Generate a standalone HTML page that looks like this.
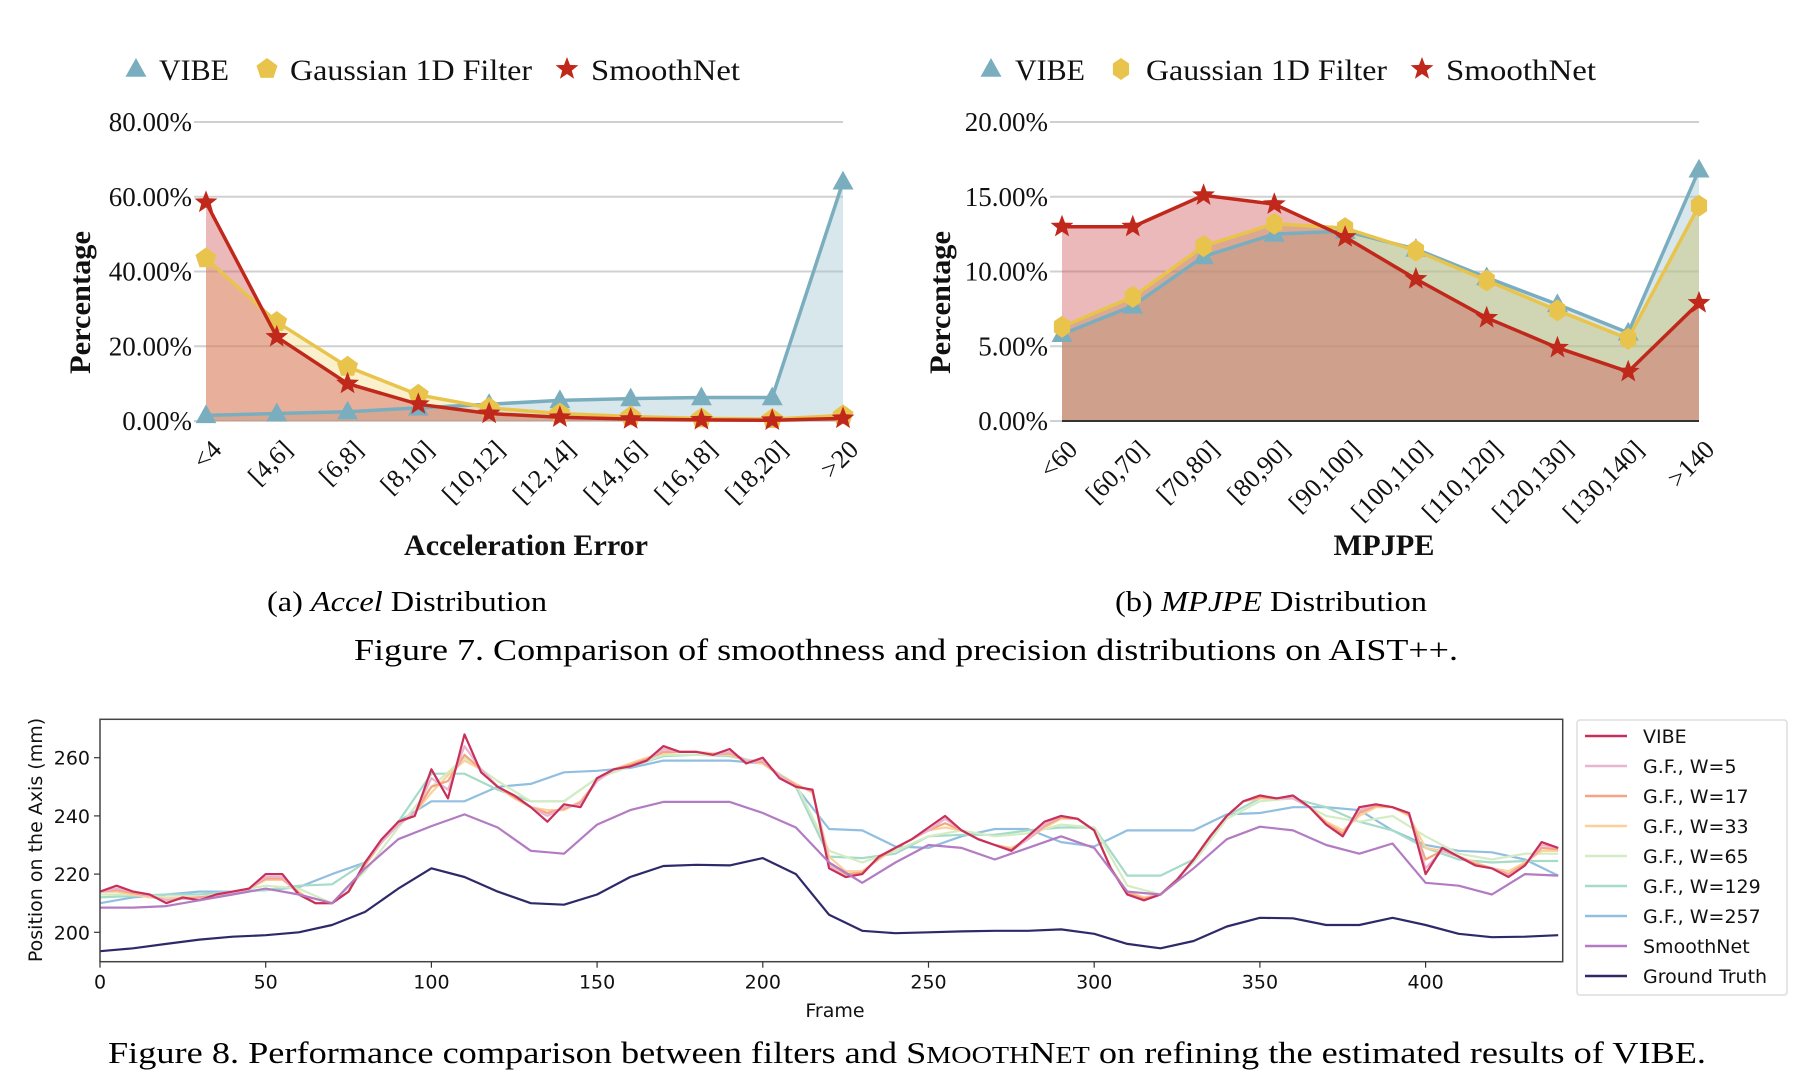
<!DOCTYPE html>
<html><head><meta charset="utf-8">
<style>
html,body{margin:0;padding:0;background:#fff;}
svg{display:block;}
.serif{font-family:"Liberation Serif",serif;}
.sans{font-family:"DejaVu Sans","Liberation Sans",sans-serif;}
</style></head>
<body>
<svg id="fig" width="1816" height="1082" viewBox="0 0 1816 1082" xmlns="http://www.w3.org/2000/svg">
<g id="chartA"></g>
<g id="chartB"></g>
<text class="serif" x="267" y="611" font-size="28" textLength="280" lengthAdjust="spacingAndGlyphs">(a) <tspan font-style="italic">Accel</tspan> Distribution</text>
<text class="serif" x="1115" y="611" font-size="28" textLength="312" lengthAdjust="spacingAndGlyphs">(b) <tspan font-style="italic">MPJPE</tspan> Distribution</text>
<text class="serif" x="354" y="660" font-size="31" textLength="1104" lengthAdjust="spacingAndGlyphs">Figure 7. Comparison of smoothness and precision distributions on AIST++.</text>
<g id="chartC"></g>
<text class="serif" x="108" y="1063" font-size="31" textLength="1598" lengthAdjust="spacingAndGlyphs">Figure 8. Performance comparison between filters and S<tspan font-size="24">MOOTH</tspan>N<tspan font-size="24">ET</tspan> on refining the estimated results of VIBE.</text>
</svg>
<script>
const NS="http://www.w3.org/2000/svg";
// ---------- Chart A data ----------
const catsA=["<4","[4,6]","[6,8]","[8,10]","[10,12]","[12,14]","[14,16]","[16,18]","[18,20]",">20"];
const vibeA=[1.5,2,2.5,3.5,4.5,5.5,6,6.3,6.3,64];
const gaussA=[43.5,26.5,14.5,7,3.5,2,1.2,0.7,0.5,1.5];
const smoothA=[58.5,22.5,10,4.5,2,1,0.5,0.3,0.2,0.7];
const ticksA=[0,20,40,60,80];
// ---------- Chart B data ----------
const catsB=["<60","[60,70]","[70,80]","[80,90]","[90,100]","[100,110]","[110,120]","[120,130]","[130,140]",">140"];
const vibeB=[5.8,7.7,11,12.5,12.7,11.5,9.6,7.8,5.9,16.8];
const gaussB=[6.3,8.3,11.7,13.2,12.9,11.4,9.4,7.4,5.5,14.4];
const smoothB=[13,13,15.1,14.5,12.3,9.5,6.9,4.9,3.3,7.9];
const ticksB=[0,5,10,15,20];
// ---------- Chart C data ----------
const frames5=[0,5,10,15,20,25,30,35,40,45,50,55,60,65,70,75,80,85,90,95,100,105,110,115,120,125,130,135,140,145,150,155,160,165,170,175,180,185,190,195,200,205,210,215,220,225,230,235,240,245,250,255,260,265,270,275,280,285,290,295,300,305,310,315,320,325,330,335,340,345,350,355,360,365,370,375,380,385,390,395,400,405,410,415,420,425,430,435,440];
const frames10=[0,10,20,30,40,50,60,70,80,90,100,110,120,130,140,150,160,170,180,190,200,210,220,230,240,250,260,270,280,290,300,310,320,330,340,350,360,370,380,390,400,410,420,430,440];
const vibeC=[214,216,214,213,210,212,211,213,214,215,220,220,213,210,210,214,224,232,238,240,256,246,268,255,250,247,243,238,244,243,253,256,257,259,264,262,262,261,263,258,260,253,250,249,222,219,220,226,229,232,236,240,235,232,230,228,233,238,240,239,235,222,213,211,213,218,225,233,240,245,247,246,247,243,237,233,243,244,243,241,220,229,226,223,222,219,223,231,229];
const w5C=[214,215,214,212.5,211,211.5,211.5,212.5,213.5,215,219,219,213,210,210,214,224,231,237,241,253,249,264,256,250,247,243,240,243,244,252,256,257,259,263,262,262,261,262,259,259,254,250,249,223,219,220,226,229,232,235,239,235,232,230,228,232,237,240,239,235,222,213,211,213,218,225,233,240,245,247,246,246,243,237,233,242,244,243,241,222,228,226,223,222,219.5,223,230,229];
const w17C=[214,214.5,213.5,212.5,211,211.5,212,212.5,213.5,215,218.5,218.5,213.5,210,210,214,223.5,231,237,241,250,252,261,256,250,246.5,243,241,242.5,244.5,252,256,257.5,259.5,262,262,262,261,261.5,259,258.5,254,250.5,248.5,224,220,220.5,225.5,229,232,235,237.5,235,232,230,228.5,232,236.5,239.5,239,235,222,213.5,211.5,213,218,225,233,240,245,246.5,246,246,243,237.5,234,241,243.5,243,240.5,225,228,226,223.5,222,220,223.5,229,228.5];
const w33C=[214,214,213,212,211.5,212,212,212.5,213,215,218,218,214,210,210,214,223,231,237,241,248,254,259,256,250,246,243,242,242,245,252,256,258,260,261.5,262,262,261.5,261,259,258,254,251,248,226,221,221,225,229,232,235,236,235,232,230,229,232,236,239,239,235,222,214,212,213,218,225,233,240,245,246,246,246,243,238,235,240,243,243,240,229,228,226,224,222,221,224,228,228];
const w65C=[213,213,212,212,214,216,215,210,221,236,250,260,252,245,245,253,257,261,261,261,258,251,228,224,228,233,235,233,234,237,236,216,213,224,239,245,246,240,238,240,233,227,225,227,227];
const w129C=[212,212.5,213,213,214,214.5,216,216.5,224,238,254.5,254.5,249,245,245,253,257,260.5,261,260.5,258,250,226,225.5,227,233,233.5,233.5,235,236,236,219.5,219.5,225,240,246,246,243,238,235,229,225,224,224.5,224.5];
const w257C=[210,212,213,214,214,214.5,215.5,220,224,238,245,245,250,251,255,255.5,256.5,259,259,259,258,250,235.5,235,229.5,229,233,235.5,235.5,231,229.5,235,235,235,240.5,241,243,243,242,235,230,228,227.5,225,219.5];
const smoothC=[208.5,208.5,209,211,213,215,213,210,222,232,236.5,240.5,236,228,227,237,242,244.8,244.8,244.8,241,236,224,217,224,230,229,225,229,233,229,214,213,222,232,236.3,235,230,227,230.5,217,216,213,220,219.5];
const gtC=[193.5,194.5,196,197.5,198.5,199,200,202.5,207,215,222,219,214,210,209.5,213,219,222.8,223.2,223,225.5,220,206,200.5,199.7,200,200.3,200.5,200.5,201,199.5,196,194.5,197,202,205,204.8,202.5,202.5,205,202.5,199.5,198.3,198.5,199];
const ticksCx=[0,50,100,150,200,250,300,350,400];
const ticksCy=[200,220,240,260];
const legendC=["VIBE","G.F., W=5","G.F., W=17","G.F., W=33","G.F., W=65","G.F., W=129","G.F., W=257","SmoothNet","Ground Truth"];

function mk(tag,attrs,parent){const e=document.createElementNS(NS,tag);for(const k in attrs)e.setAttribute(k,attrs[k]);parent.appendChild(e);return e;}
function shapePts(kind,cx,cy,r){
  let pts=[];
  if(kind==='tri'){pts=[[cx,cy-r],[cx+r*0.95,cy+r*0.7],[cx-r*0.95,cy+r*0.7]];}
  else if(kind==='pent'){for(let i=0;i<5;i++){const a=-Math.PI/2+i*2*Math.PI/5;pts.push([cx+r*Math.cos(a),cy+r*Math.sin(a)]);}}
  else if(kind==='hex'){for(let i=0;i<6;i++){const a=-Math.PI/2+i*Math.PI/3;pts.push([cx+r*Math.cos(a)*0.85,cy+r*Math.sin(a)]);}}
  else {for(let i=0;i<10;i++){const a=-Math.PI/2+i*Math.PI/5;const rr=i%2?r*0.42:r;pts.push([cx+rr*Math.cos(a),cy+rr*Math.sin(a)]);}}
  return pts.map(p=>p[0].toFixed(1)+','+p[1].toFixed(1)).join(' ');
}

function distChart(g,cfg){
  const {x0,x1,y0,y1,max,cats,ticks,series,legend,xTitle,xTitleX,xTitleW,yTitleX,axisLine}=cfg;
  const sx=i=>x0+i*(x1-x0)/(cats.length-1);
  const sy=v=>y0-(v/max)*(y0-y1);
  ticks.forEach(t=>{
    const l=mk('line',{x1:x0-12,x2:x1,y1:sy(t),y2:sy(t),stroke:'#d0d0d0','stroke-width':2},g);
    
    
    const tx=mk('text',{x:x0-14,y:sy(t)+9,'text-anchor':'end','font-size':27,class:'serif',fill:'#111'},g);
    tx.textContent=t.toFixed(2)+'%';
    
    
  });
  series.forEach(s=>{
    let d='M'+sx(0)+','+sy(0);
    s.vals.forEach((v,i)=>{d+=' L'+sx(i).toFixed(1)+','+sy(v).toFixed(1);});
    d+=' L'+sx(s.vals.length-1)+','+sy(0)+' Z';
    const a=mk('path',{d:d,fill:s.fill,'fill-opacity':s.op},g);
    
    
  });
  if(axisLine){const al=mk('line',{x1:x0,x2:x1,y1:y0,y2:y0,stroke:'#333','stroke-width':2},g);
    
    }
  series.forEach(s=>{
    const pts=s.vals.map((v,i)=>sx(i).toFixed(1)+','+sy(v).toFixed(1)).join(' ');
    const pl=mk('polyline',{points:pts,fill:'none',stroke:s.color,'stroke-width':3.5},g);
    
    
    s.vals.forEach((v,i)=>{
      const m=mk('polygon',{points:shapePts(s.marker,sx(i),sy(v),s.marker==='star'?12:11),fill:s.color},g);
      
      
    });
  });
  cats.forEach((c,i)=>{
    const tx=mk('text',{x:0,y:0,'text-anchor':'end','font-size':26,class:'serif',fill:'#111',transform:`translate(${sx(i)+17},${y0+30}) rotate(-45)`},g);
    tx.textContent=c;
    
    
  });
  const xt=mk('text',{x:xTitleX-xTitleW/2,y:555,'font-size':30,class:'serif','font-weight':'bold',fill:'#111',textLength:xTitleW,lengthAdjust:'spacingAndGlyphs'},g);
  xt.textContent=xTitle;
  
  
  const yt=mk('text',{x:-71,y:0,'font-size':30,class:'serif','font-weight':'bold',fill:'#111',textLength:143,lengthAdjust:'spacingAndGlyphs',transform:`translate(${yTitleX},303) rotate(-90)`},g);
  yt.textContent='Percentage';
  
  
  legend.forEach(L=>{
    const m=mk('polygon',{points:shapePts(L.marker,L.mx,69,L.marker==='star'?12:11),fill:L.color},g);
    
    
    const t=mk('text',{x:L.tx,y:80,'font-size':30,class:'serif',fill:'#111',textLength:L.w,lengthAdjust:'spacingAndGlyphs'},g);
    t.textContent=L.label;
    
    
  });
}

const CV='#7aaebf',CG='#e9c44d',CS='#c0281c';
distChart(document.getElementById('chartA'),{x0:206,x1:843,y0:421,y1:122,max:80,cats:catsA,ticks:ticksA,xTitle:'Acceleration Error',xTitleX:526,xTitleW:244,yTitleX:90,axisLine:false,
  series:[{name:'vibe',vals:vibeA,color:CV,fill:'#9ec3d0',op:0.4,marker:'tri'},{name:'gaussian',vals:gaussA,color:CG,fill:'#f0d66e',op:0.35,marker:'pent'},{name:'smoothnet',vals:smoothA,color:CS,fill:'#cc5050',op:0.4,marker:'star'}],
  legend:[{marker:'tri',mx:136,tx:159,w:70,label:'VIBE',color:CV},{marker:'pent',mx:267,tx:290,w:242,label:'Gaussian 1D Filter',color:CG},{marker:'star',mx:567,tx:591,w:149,label:'SmoothNet',color:CS}]});
distChart(document.getElementById('chartB'),{x0:1062,x1:1699,y0:421,y1:122,max:20,cats:catsB,ticks:ticksB,xTitle:'MPJPE',xTitleX:1384,xTitleW:101,yTitleX:950,axisLine:true,
  series:[{name:'vibe',vals:vibeB,color:CV,fill:'#9ec3d0',op:0.4,marker:'tri'},{name:'gaussian',vals:gaussB,color:CG,fill:'#c8c070',op:0.45,marker:'hex'},{name:'smoothnet',vals:smoothB,color:CS,fill:'#cc5050',op:0.4,marker:'star'}],
  legend:[{marker:'tri',mx:991,tx:1015,w:70,label:'VIBE',color:CV},{marker:'hex',mx:1121,tx:1146,w:241,label:'Gaussian 1D Filter',color:CG},{marker:'star',mx:1422,tx:1446,w:150,label:'SmoothNet',color:CS}]});

// ---------- Chart C ----------
(function(){
  const g=document.getElementById('chartC');
  const X0=100,X1=1562.7,Y0=961.7,Y1=719.3;
  const fx=f=>X0+f*3.314;
  const fy=v=>932.3-(v-200)*2.91;
  const clip=mk('clipPath',{id:'clipC'},g);
  mk('rect',{x:X0,y:Y1,width:X1-X0,height:Y0-Y1},clip);
  const lines=[
    {name:'vibe',f:frames5,v:vibeC,c:'#c8305a',w:2.2},
    {name:'gf-w5',f:frames5,v:w5C,c:'#e8b4d0',w:2.2},
    {name:'gf-w17',f:frames5,v:w17C,c:'#f4a582',w:2.2},
    {name:'gf-w33',f:frames5,v:w33C,c:'#fdd09a',w:2.2},
    {name:'gf-w65',f:frames10,v:w65C,c:'#d4ecc4',w:2.2},
    {name:'gf-w129',f:frames10,v:w129C,c:'#a6dbc8',w:2.2},
    {name:'gf-w257',f:frames10,v:w257C,c:'#92bfe0',w:2.2},
    {name:'smoothnet',f:frames10,v:smoothC,c:'#b37bc2',w:2.2},
    {name:'ground-truth',f:frames10,v:gtC,c:'#2e2a6a',w:2.2}
  ];
  const order=[6,5,4,3,2,1,0,7,8];
  const lg=mk('g',{'clip-path':'url(#clipC)'},g);
  order.forEach(k=>{
    const s=lines[k];
    const pts=s.f.map((f,i)=>fx(f).toFixed(1)+','+fy(s.v[i]).toFixed(1)).join(' ');
    const p=mk('polyline',{points:pts,fill:'none',stroke:s.c,'stroke-width':s.w,'stroke-linejoin':'round'},lg);
    
    
  });
  const fr=mk('rect',{x:X0,y:Y1,width:X1-X0,height:Y0-Y1,fill:'none',stroke:'#444','stroke-width':1.5},g);
  
  
  ticksCx.forEach(t=>{
    mk('line',{x1:fx(t),x2:fx(t),y1:Y0,y2:Y0+6,stroke:'#333','stroke-width':1.2},g);
    const tx=mk('text',{x:fx(t),y:Y0+27,'text-anchor':'middle','font-size':19,class:'sans',fill:'#111'},g);
    tx.textContent=t;
    
    
  });
  ticksCy.forEach(t=>{
    mk('line',{x1:X0-6,x2:X0,y1:fy(t),y2:fy(t),stroke:'#333','stroke-width':1.2},g);
    const tx=mk('text',{x:X0-10,y:fy(t)+7,'text-anchor':'end','font-size':19,class:'sans',fill:'#111'},g);
    tx.textContent=t;
    
    
  });
  const xt=mk('text',{x:835,y:1017,'text-anchor':'middle','font-size':19,class:'sans',fill:'#111'},g);
  xt.textContent='Frame';
  
  
  const yt=mk('text',{x:0,y:0,'text-anchor':'middle','font-size':19,class:'sans',fill:'#111',transform:'translate(42,840) rotate(-90)'},g);
  yt.textContent='Position on the Axis (mm)';
  
  
  const lb=mk('rect',{x:1577,y:720,width:210,height:275,rx:3,fill:'#fff',stroke:'#ddd','stroke-width':1.5},g);
  
  
  legendC.forEach((lab,i)=>{
    const y=736+i*30;
    const ln=mk('line',{x1:1585,x2:1627,y1:y,y2:y,stroke:lines[i].c,'stroke-width':2.5},g);
    
    
    const t=mk('text',{x:1643,y:y+7,'font-size':19,class:'sans',fill:'#111'},g);
    t.textContent=lab;
    
    
  });
})();
</script>
</body></html>
